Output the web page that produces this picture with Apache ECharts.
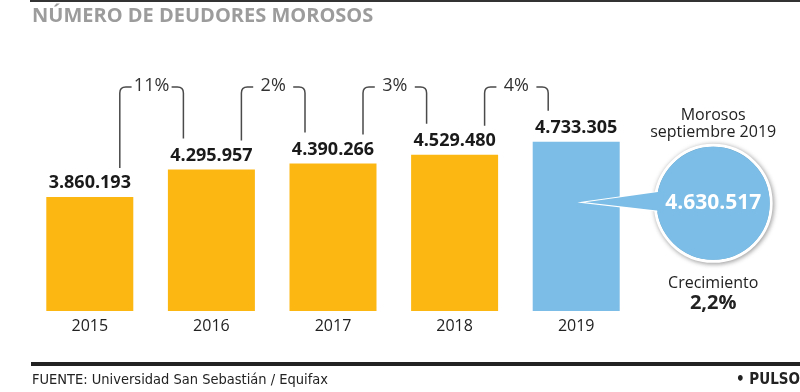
<!DOCTYPE html>
<html><head><meta charset="utf-8">
<script src="https://cdn.jsdelivr.net/npm/echarts@6/dist/echarts.min.js"></script>
<style>html,body{margin:0;padding:0;background:#fff}#c{width:800px;height:392px}</style>
</head><body><div id="c"></div>
<script>
// ---- data ----
const years = ['2015', '2016', '2017', '2018', '2019'];
const deudores = [3860193, 4295957, 4390266, 4529480, 4733305];
const variacion = ['11%', '2%', '3%', '4%'];
const morososSept2019 = 4630517;
const crecimiento = '2,2%';
const yMin = 2050000, yMax = 6000000;

const ORANGE = '#fcb712', BLUE = '#7bbde6';
const FONT = '"Open Sans", "DejaVu Sans", sans-serif';
function fmt(v) { return String(v).replace(/\B(?=(\d{3})+(?!\d))/g, '.'); }

const chart = echarts.init(document.getElementById('c'), null, { renderer: 'canvas' });

const option = {
  animation: false,
  backgroundColor: '#fff',
  grid: { left: 29, width: 608, top: 62, height: 249 },
  xAxis: {
    type: 'category', data: years,
    axisLine: { show: false }, axisTick: { show: false },
    axisLabel: { margin: 7, fontSize: 16, color: '#222', fontFamily: FONT }
  },
  yAxis: { type: 'value', min: yMin, max: yMax, show: false, splitLine: { show: false } },
  series: [
    {
      type: 'bar', barWidth: 87,
      data: deudores.map((v, i) => ({ value: v, itemStyle: { color: i === deudores.length - 1 ? BLUE : ORANGE } })),
      label: {
        show: true, position: 'top', distance: 5,
        formatter: p => fmt(p.value),
        fontSize: 18, fontWeight: 'bold', color: '#1a1a1a', fontFamily: FONT
      }
    },
    {
      type: 'custom',
      data: variacion.map((p, i) => [i, deudores[i]]),
      encode: { x: 0, y: 1 },
      renderItem: function (params, api) {
        const i = api.value(0);
        const a = api.coord([i, deudores[i]]);
        const b = api.coord([i + 1, deudores[i + 1]]);
        const topY = api.coord([0, yMax])[1] + 25;
        const x1 = a[0] + 30, x2 = b[0] - 28;
        const y1 = a[1] - 29, y2 = b[1] - 31;
        const mid = (x1 + x2) / 2, g = 20, r = 6;
        const d = 'M' + x1 + ' ' + y1 + ' L' + x1 + ' ' + (topY + r) +
          ' Q' + x1 + ' ' + topY + ' ' + (x1 + r) + ' ' + topY +
          ' L' + (mid - g) + ' ' + topY +
          ' M' + (mid + g) + ' ' + topY + ' L' + (x2 - r) + ' ' + topY +
          ' Q' + x2 + ' ' + topY + ' ' + x2 + ' ' + (topY + r) +
          ' L' + x2 + ' ' + y2;
        return {
          type: 'group', children: [
            { type: 'path', shape: { pathData: d }, style: { fill: null, stroke: '#4a4a4a', lineWidth: 1.5 } },
            { type: 'text', style: { text: variacion[i], x: mid, y: topY - 1, align: 'center', verticalAlign: 'middle', font: '18px ' + FONT, fill: '#333' } }
          ]
        };
      },
      z: 5
    },
    {
      type: 'custom',
      data: [[years.length - 1, morososSept2019]],
      encode: { x: 0, y: 1 },
      renderItem: function (params, api) {
        const p = api.coord([api.value(0), api.value(1)]);
        const cx = p[0] + 137, cy = p[1] + 55, R = 58;
        const wedge = [[p[0] + 9, cy - 1], [cx - 50, cy - 12], [cx - 50, cy + 8]];
        return {
          type: 'group', children: [
            { type: 'circle', shape: { cx: cx, cy: cy, r: R }, style: { fill: BLUE, stroke: '#fff', lineWidth: 3, shadowBlur: 5, shadowColor: 'rgba(0,0,0,0.35)', shadowOffsetX: 1, shadowOffsetY: 1 } },
            { type: 'polygon', shape: { points: wedge }, style: { fill: BLUE, stroke: '#fff', lineWidth: 2 } },
            { type: 'circle', shape: { cx: cx, cy: cy, r: R - 1.5 }, style: { fill: BLUE } },
            { type: 'polygon', shape: { points: wedge }, style: { fill: BLUE } },
            { type: 'text', style: { text: fmt(api.value(1)), x: cx, y: cy, align: 'center', verticalAlign: 'middle', font: 'bold 21px ' + FONT, fill: '#fff' } },
            { type: 'text', style: { text: 'Morosos', x: cx, y: cy - 88, align: 'center', verticalAlign: 'middle', font: '16px ' + FONT, fill: '#222' } },
            { type: 'text', style: { text: 'septiembre 2019', x: cx, y: cy - 71, align: 'center', verticalAlign: 'middle', font: '16px ' + FONT, fill: '#222' } },
            { type: 'text', style: { text: 'Crecimiento', x: cx, y: cy + 80, align: 'center', verticalAlign: 'middle', font: '16px ' + FONT, fill: '#222' } },
            { type: 'text', style: { text: crecimiento, x: cx, y: cy + 100, align: 'center', verticalAlign: 'middle', font: 'bold 20px ' + FONT, fill: '#222' } }
          ]
        };
      },
      z: 6
    }
  ],
  graphic: [
    { type: 'rect', left: 30, top: 0, shape: { width: 770, height: 2 }, style: { fill: '#333' } },
    { type: 'text', left: 32, top: 6, style: { text: 'NÚMERO DE DEUDORES MOROSOS', font: 'bold 20px ' + FONT, fill: '#9c9c9c' } },
    { type: 'rect', left: 31, top: 362, shape: { width: 769, height: 4 }, style: { fill: '#222' } },
    { type: 'text', left: 32, top: 373, style: { text: 'FUENTE: Universidad San Sebastián / Equifax', font: '14.5px "Liberation Sans Narrow", "DejaVu Sans Condensed", sans-serif', fill: '#222' } },
    { type: 'text', right: 0, top: 373, style: { text: '• PULSO', font: 'bold 15px "Liberation Sans Narrow", "DejaVu Sans Condensed", sans-serif', fill: '#222' } }
  ]
};
chart.setOption(option);
</script>
</body></html>
